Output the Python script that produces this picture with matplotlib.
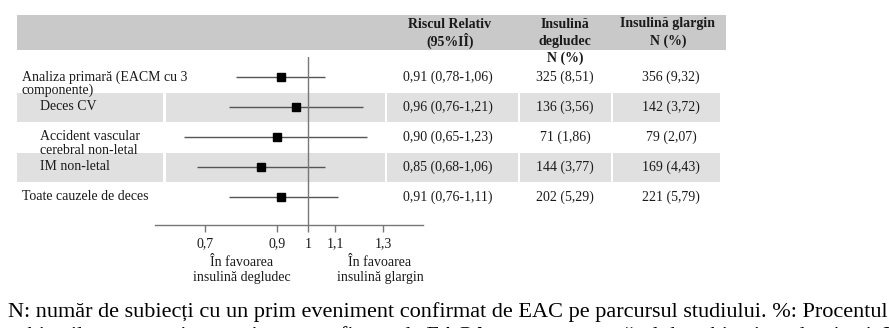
import numpy as np
import matplotlib
matplotlib.use("Agg")
import matplotlib.pyplot as plt
from matplotlib.patches import Rectangle

# data
labels = [["Analiza primară (EACM cu 3", "componente)"],
          ["Deces CV"],
          ["Accident vascular", "cerebral non-letal"],
          ["IM non-letal"],
          ["Toate cauzele de deces"]]
indent = [False, True, True, True, False]
rr = [0.91, 0.96, 0.90, 0.85, 0.91]
rr_lo = [0.78, 0.76, 0.65, 0.68, 0.76]
rr_hi = [1.06, 1.21, 1.23, 1.06, 1.11]
deg_n = [325, 136, 71, 144, 202]
deg_pct = [8.51, 3.56, 1.86, 3.77, 5.29]
gla_n = [356, 142, 79, 169, 221]
gla_pct = [9.32, 3.72, 2.07, 4.43, 5.79]
xticks = [0.7, 0.9, 1, 1.1, 1.3]
caption = ["N: număr de subiecți cu un prim eveniment confirmat de EAC pe parcursul studiului. %: Procentul",
           "subiecților cu un prim eveniment confirmat de EAC în raport cu numărul de subiecți randomizați. E"]


def ro(v):
    return f"{v:.2f}".replace(".", ",")


def ro_tick(v):
    return f"{v:g}".replace(".", ",")


plt.rcParams["font.family"] = ["Liberation Serif", "DejaVu Serif"]
W, H = 889, 328
fig = plt.figure(figsize=(W / 100, H / 100), dpi=100)

# pixel-coordinate canvas for the table part
bg = fig.add_axes([0, 0, 1, 1])
bg.set_xlim(0, W)
bg.set_ylim(H, 0)
bg.axis("off")

row0, step = 77, 30
fs = 10
txt = "#1a1a1a"

# header band
bg.add_patch(Rectangle((17, 15), 709, 35, color="#c9c9c9", lw=0))
bold = dict(fontsize=fs, fontweight="bold", color=txt, ha="center", va="center")
bg.text(450, 24, "Riscul Relativ", **bold)
bg.text(450, 41, "(95%IÎ)", **bold)
bg.text(565, 24, "Insulină", **bold)
bg.text(565, 41, "degludec", **bold)
bg.text(565, 58, "N (%)", **bold)
bg.text(668, 24, "Insulină glargin", **bold)
bg.text(668, 41, "N (%)", **bold)

# striped rows, split in column cells
cells = [(17, 163), (166, 385), (387, 518), (520, 611), (613, 720)]
for i in range(len(rr)):
    y = row0 + step * i
    if i % 2 == 1:
        for a, b in cells:
            bg.add_patch(Rectangle((a, y - 14), b - a, 29, color="#e0e0e0", lw=0))
    x0 = 40 if indent[i] else 22
    for k, line in enumerate(labels[i]):
        bg.text(x0, y + 13 * k, line, fontsize=fs, color=txt, ha="left", va="center")
    bg.text(403, y, f"{ro(rr[i])} ({ro(rr_lo[i])}-{ro(rr_hi[i])})",
            fontsize=fs, color=txt, ha="left", va="center")
    bg.text(565, y, f"{deg_n[i]} ({ro(deg_pct[i])})", fontsize=fs, color=txt,
            ha="center", va="center")
    bg.text(671, y, f"{gla_n[i]} ({ro(gla_pct[i])})", fontsize=fs, color=txt,
            ha="center", va="center")

# favour labels
bg.text(242, 263, "În favoarea", fontsize=fs, color=txt, ha="center", va="center")
bg.text(242, 277, "insulină degludec", fontsize=fs, color=txt, ha="center", va="center")
bg.text(380, 263, "În favoarea", fontsize=fs, color=txt, ha="center", va="center")
bg.text(380, 277, "insulină glargin", fontsize=fs, color=txt, ha="center", va="center")

# caption (second line cut by the bottom edge, as in the reference)
bg.text(8, 317, caption[0], fontsize=16, color="black", ha="left", va="baseline")
bg.text(8, 341, caption[1], fontsize=16, color="black", ha="left", va="baseline")

# forest plot axes, log scale
ax_l, ax_r, ax_top, ax_bot = 155, 423, 57, 225
ax = fig.add_axes([ax_l / W, 1 - ax_bot / H, (ax_r - ax_l) / W, (ax_bot - ax_top) / H])
ax.patch.set_visible(False)
ax.set_xscale("log")
ln_per_px = 1 / 288.3
ax.set_xlim(np.exp((ax_l - 307.8) * ln_per_px), np.exp((ax_r - 307.8) * ln_per_px))
ax.set_ylim((ax_bot - row0) / step, (ax_top - row0) / step)

ys = np.arange(len(rr))
ax.hlines(ys, rr_lo, rr_hi, color="#555555", lw=1)
ax.plot(rr, ys, "s", color="black", ms=5.5)
ax.axvline(1, color="#777777", lw=1)

for s in ["top", "right", "left"]:
    ax.spines[s].set_visible(False)
ax.spines["bottom"].set_color("#777777")
ax.spines["bottom"].set_linewidth(1)
ax.set_yticks([])
ax.set_xticks(xticks)
ax.set_xticklabels([ro_tick(t) for t in xticks])
ax.xaxis.set_minor_locator(matplotlib.ticker.NullLocator())
ax.tick_params(axis="x", length=5, width=1, color="#777777", labelsize=fs,
               labelcolor=txt, pad=4)

fig.savefig("out.png", dpi=100)
